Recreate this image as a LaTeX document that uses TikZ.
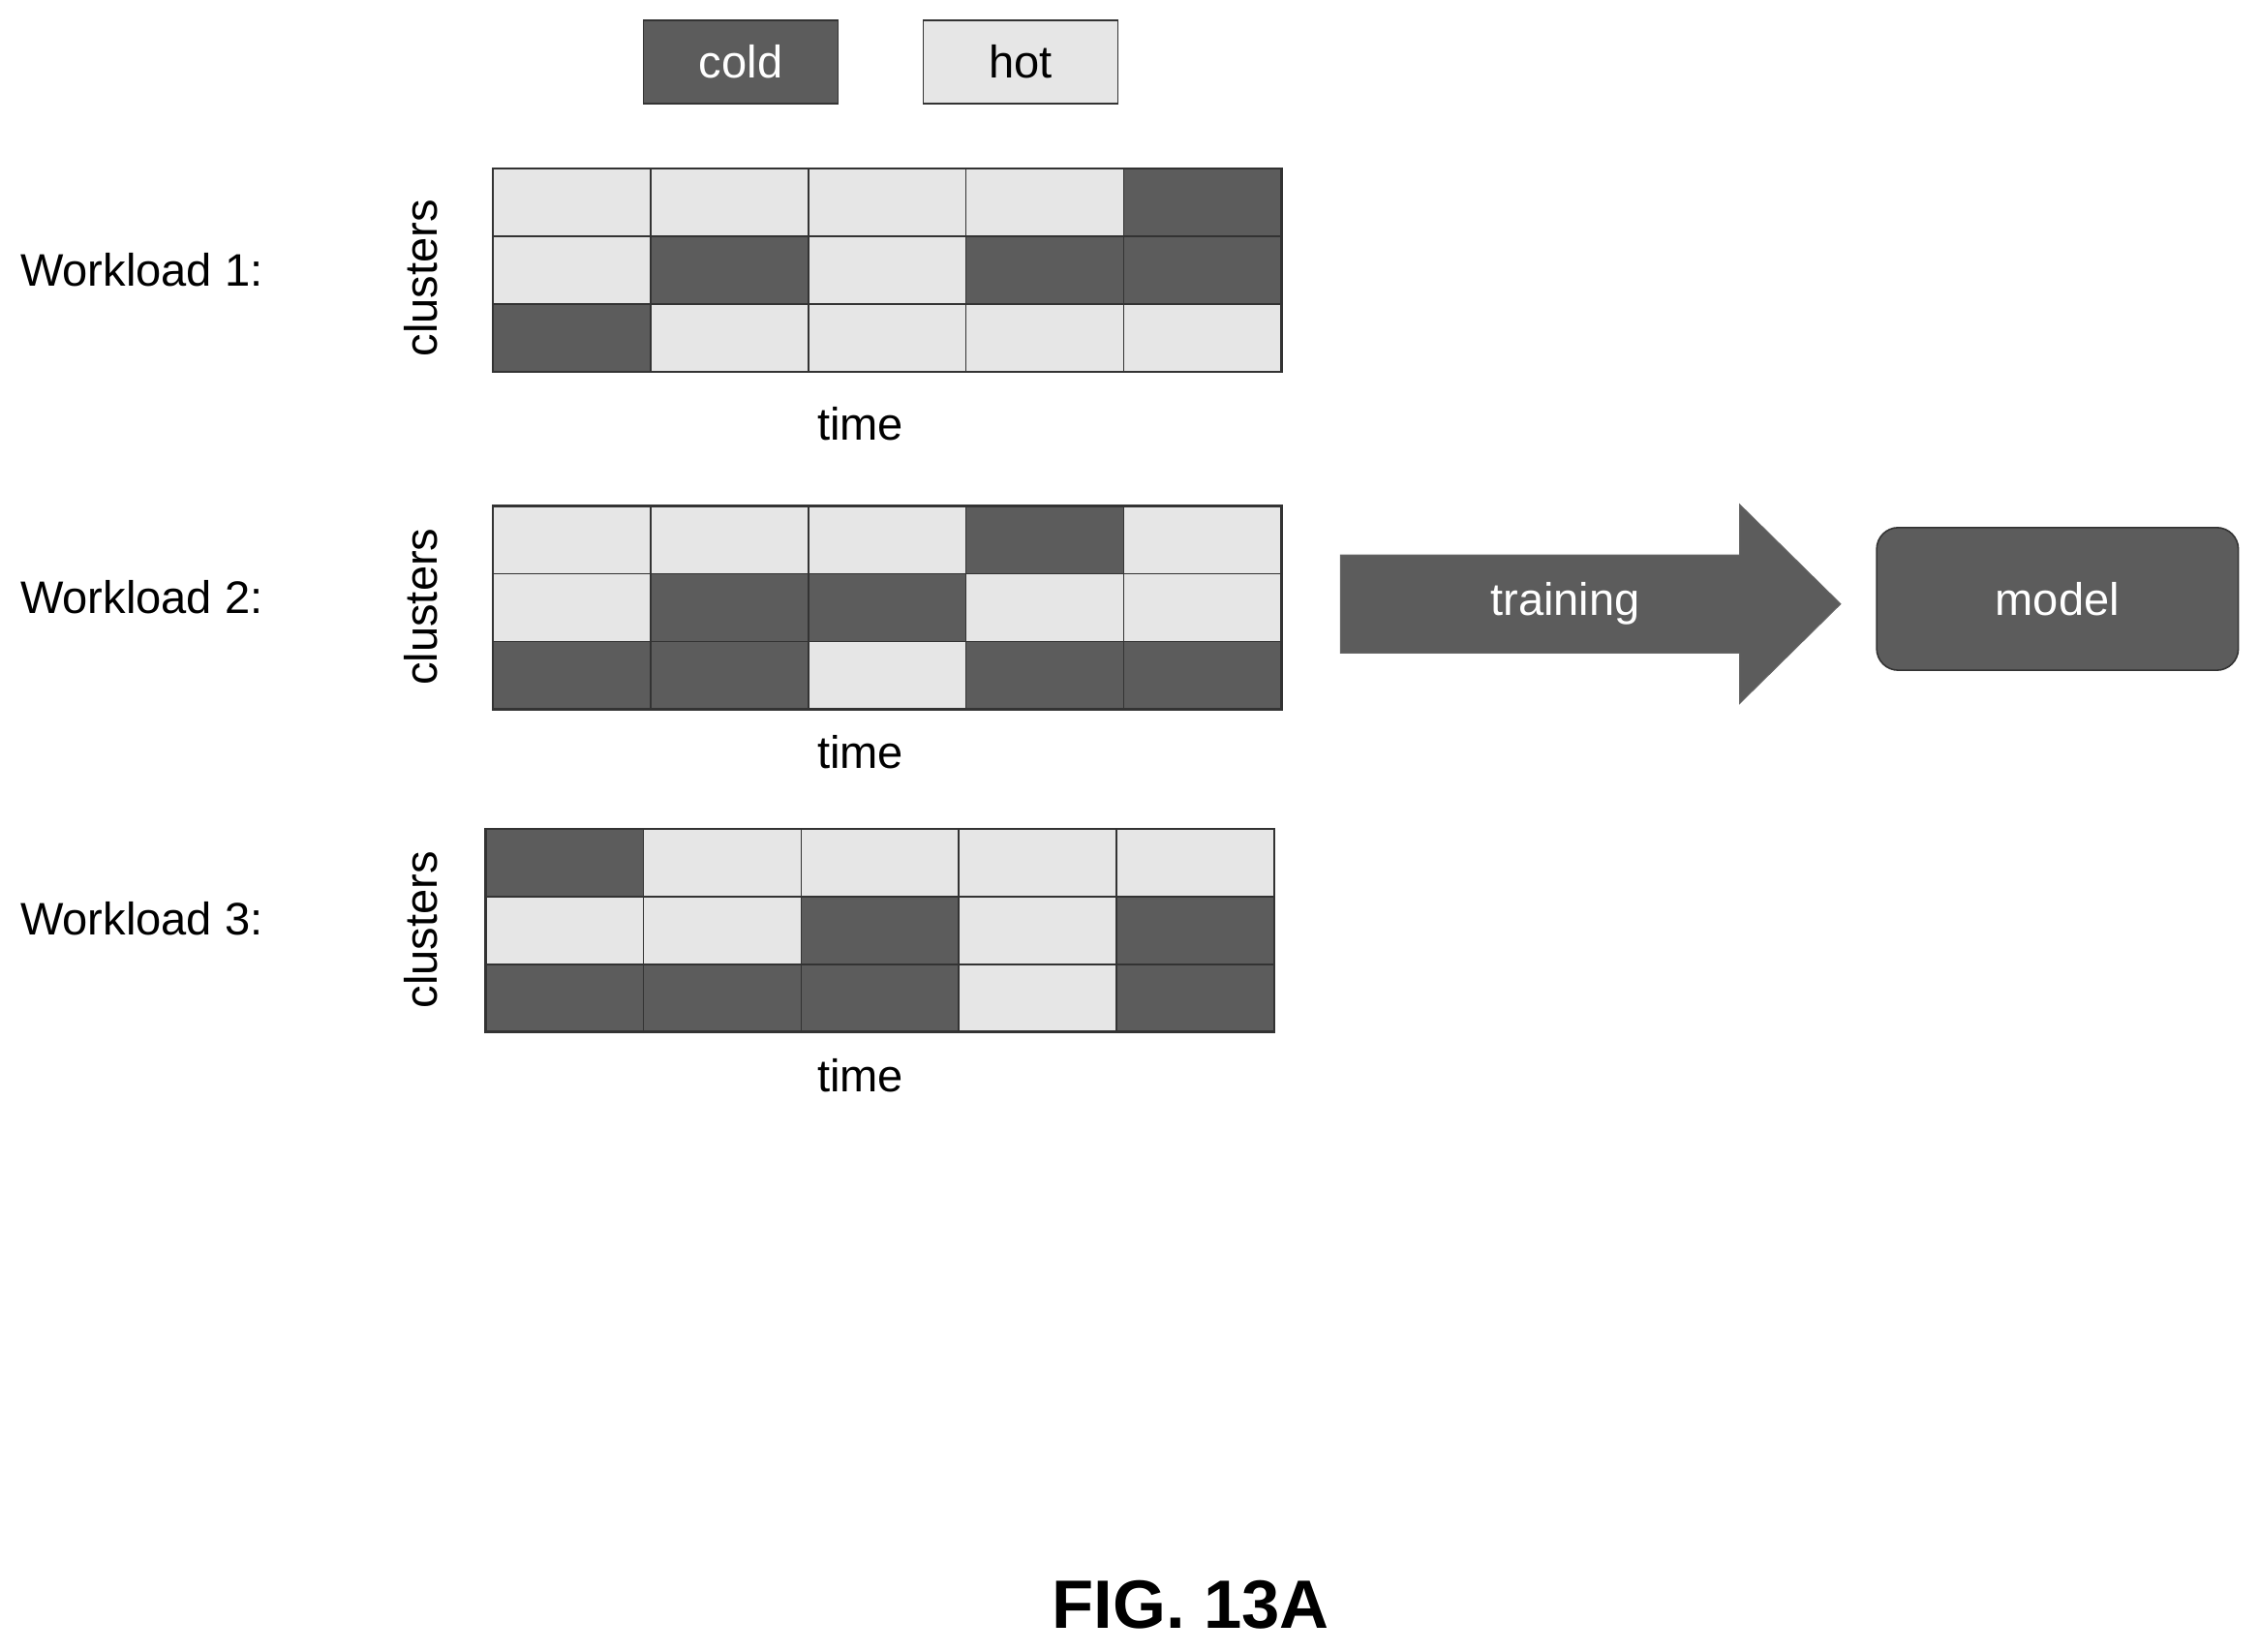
\documentclass[tikz,border=0pt]{standalone}
\usepackage{fontspec}
\setmainfont{Liberation Sans}
\definecolor{cold}{HTML}{5C5C5C}
\definecolor{hot}{HTML}{E6E6E6}
\begin{document}
\begin{tikzpicture}[x=0.02cm,y=-0.02cm,
  C/.style={fill=cold,draw=black!80,line width=0.6pt},
  H/.style={fill=hot,draw=black!80,line width=0.6pt},
  lab/.style={font=\fontsize{18}{21}\selectfont},
  wt/.style={font=\fontsize{18}{21}\selectfont,text=white}]
\useasboundingbox (0,0) rectangle (1568,1146);
\node[C,minimum width=2.7cm,minimum height=1.16cm,wt] (cold) at (514,43) {cold};
\node[H,minimum width=2.7cm,minimum height=1.16cm,lab] (hot) at (708,43) {hot};
\newcommand{\mygrid}[4]{% x0 y0 name rows
  \foreach \row [count=\r from 0] in {#4}{
    \foreach \c [count=\k from 0] in \row {
      \path[\c] (#1+\k*109.4,#2+\r*47) rectangle ++(109.4,47);
    }
  }
  \draw[black!80,line width=1pt] (#1,#2) rectangle ++(547,141);
}
\mygrid{342}{117}{g1}{{H,H,H,H,C},{H,C,H,C,C},{C,H,H,H,H}}
\mygrid{342}{351}{g2}{{H,H,H,C,H},{H,C,C,H,H},{C,C,H,C,C}}
\mygrid{337}{575}{g3}{{C,H,H,H,H},{H,H,C,H,C},{C,C,C,H,C}}
\foreach \y/\t/\n in {187/1/w1,414/2/w2,637/3/w3}
  \node[lab,anchor=west] (\n) at (8,\y) {Workload \t:};
\foreach \y/\n in {193/c1,421/c2,645/c3}
  \node[lab,rotate=90] (\n) at (292,\y) {clusters};
\foreach \y/\n in {294/t1,522/t2,746/t3}
  \node[lab] (\n) at (597,\y) {time};
\draw[fill=cold,draw=black!60] (930,385) -- (1207,385) -- (1207,350) -- (1277,419) -- (1207,488) -- (1207,453) -- (930,453) -- cycle;
\node[wt] (tr) at (1086,419) {training};
\node[C,rounded corners=0.3cm,minimum width=5.02cm,minimum height=1.98cm,wt] (model) at (1427.5,415.5) {model};
\node[font=\bfseries\fontsize{27}{32}\selectfont] (fig) at (826,1113) {FIG. 13A};
\end{tikzpicture}
\end{document}
